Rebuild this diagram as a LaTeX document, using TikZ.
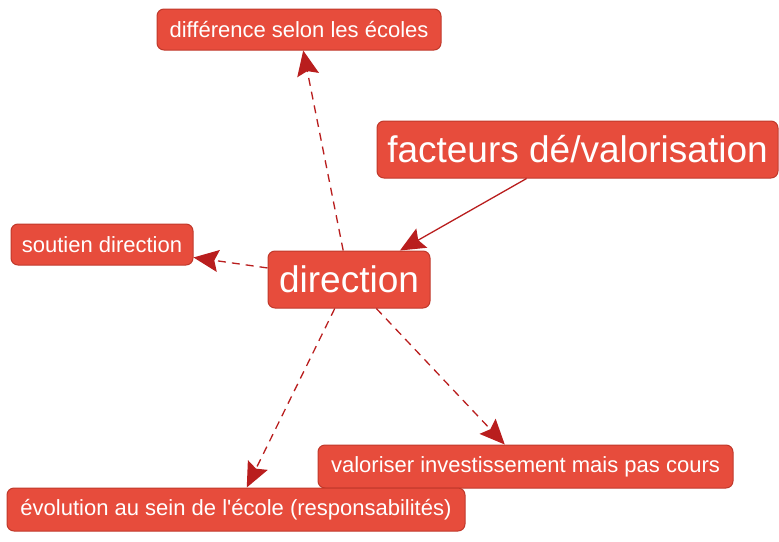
\documentclass[tikz,border=0pt]{standalone}
\usepackage{fontspec}
\setmainfont{Liberation Sans}
\newfontfamily\plainsans{Liberation Sans}
\usetikzlibrary{arrows.meta}
\definecolor{boxfill}{RGB}{231,76,60}
\definecolor{boxdraw}{RGB}{192,57,43}
\definecolor{arrowcol}{RGB}{185,30,30}
\begin{document}
\begin{tikzpicture}[x=1pt,y=-1pt,
  topic/.style={draw=boxdraw, line width=1pt, fill=boxfill, rounded corners=7pt,
    text=white, inner sep=0pt, align=center},
  small/.style={topic, font=\plainsans\fontsize{22}{24}\selectfont},
  big/.style={topic, font=\plainsans\fontsize{37}{40}\selectfont},
  link/.style={draw=arrowcol, line width=1.3pt,
    -{Stealth[length=25pt,width=22pt,inset=4pt]}},
  dlink/.style={link, dash pattern=on 8pt off 6pt}]
\useasboundingbox (0,0) rectangle (779,541);
\node[small, minimum width=284pt, minimum height=41pt] (dif) at (299,29.5) {différence selon les écoles};
\node[big, minimum width=401pt, minimum height=57pt] (fac) at (577.5,149.5) {facteurs dé/valorisation};
\node[small, minimum width=182pt, minimum height=41pt] (sou) at (102,244.5) {soutien direction};
\node[big, minimum width=162pt, minimum height=57pt] (dir) at (349,279.5) {direction};
\node[small, minimum width=415pt, minimum height=43pt] (val) at (525.5,466.5) {valoriser investissement mais pas cours};
\node[small, minimum width=458pt, minimum height=43pt] (evo) at (236,509.5) {évolution au sein de l'école (responsabilités)};
\draw[link] (fac) -- (dir);
\draw[dlink] (dir) -- (dif);
\draw[dlink] (dir) -- (sou);
\draw[dlink] (dir) -- (val);
\draw[dlink] (dir) -- (evo);
\end{tikzpicture}
\end{document}
